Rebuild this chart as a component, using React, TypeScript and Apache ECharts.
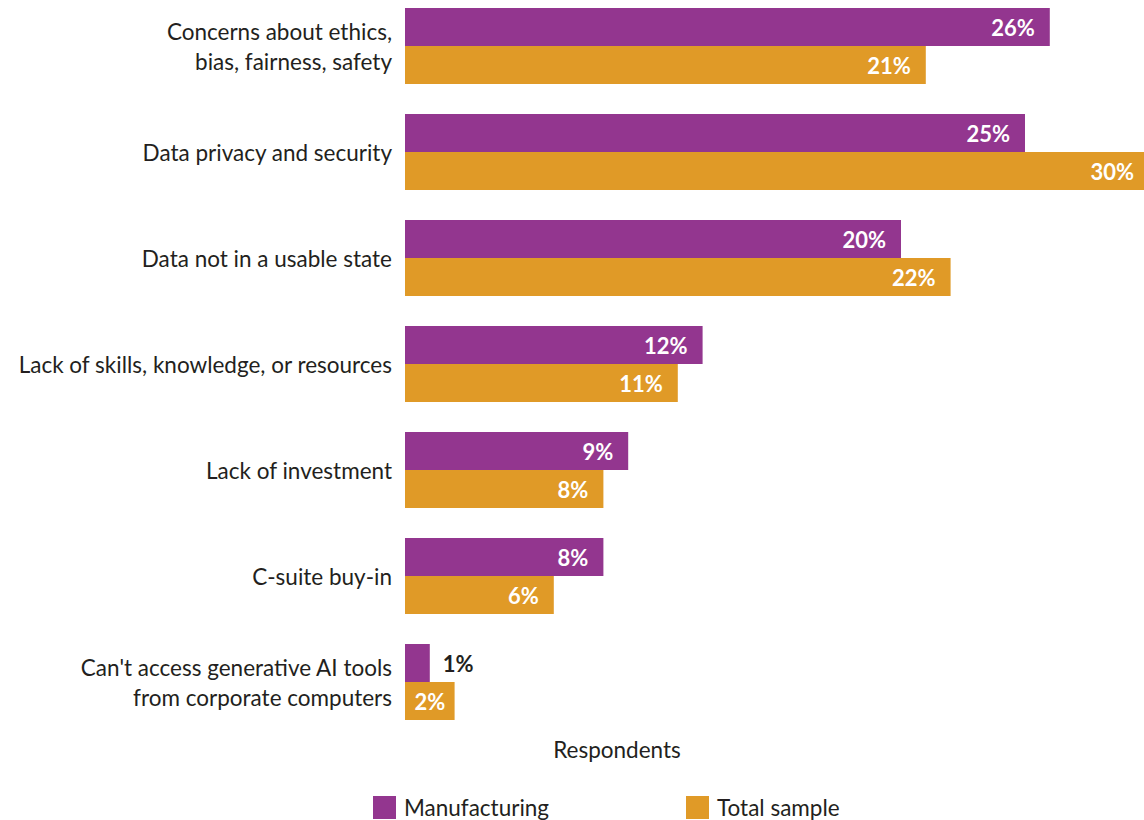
import React, { useEffect, useRef } from "react";
import * as echarts from "echarts";

const categories = [
  "Concerns about ethics,\nbias, fairness, safety",
  "Data privacy and security",
  "Data not in a usable state",
  "Lack of skills, knowledge, or resources",
  "Lack of investment",
  "C-suite buy-in",
  "Can't access generative AI tools\nfrom corporate computers",
];
const manufacturing = [26, 25, 20, 12, 9, 8, 1];
const totalSample = [21, 30, 22, 11, 8, 6, 2];
const seriesNames = ["Manufacturing", "Total sample"];
const axisTitle = "Respondents";

const PURPLE = "#93368f";
const ORANGE = "#e09a27";
const TEXT = "#231f20";
const FONT = "Lato, 'Noto Sans', sans-serif";
const OFFSET = 7; // chart canvas is shifted up by this many pixels

function labelFor(v: number) {
  const base = { show: true, fontWeight: "bold", fontSize: 22, fontFamily: FONT };
  if (v <= 1) {
    return { ...base, position: "right", distance: 13, color: TEXT, padding: [0, 0, 4, 0] };
  }
  if (v <= 2) {
    return { ...base, position: "inside", color: "#fff" };
  }
  return { ...base, position: "insideRight", distance: 15, color: "#fff" };
}

export default function App() {
  const ref = useRef<HTMLDivElement>(null);
  useEffect(() => {
    if (!ref.current) return;
    const chart = echarts.init(ref.current, undefined, { renderer: "svg" });
    const legendText = { color: TEXT, fontSize: 22.5, fontFamily: FONT, padding: [0, 0, 0, 3] };
    chart.setOption({
      animation: false,
      textStyle: { fontFamily: FONT },
      grid: { left: 405, top: 0, width: 744, height: 742, containLabel: false },
      xAxis: {
        type: "value",
        min: 0,
        max: 30,
        show: false,
      },
      yAxis: {
        type: "category",
        data: categories,
        inverse: true,
        axisLine: { show: false },
        axisTick: { show: false },
        splitLine: { show: false },
        axisLabel: {
          color: TEXT,
          fontSize: 22.5,
          fontFamily: FONT,
          margin: 13,
          lineHeight: 30,
          align: "right",
          padding: [0, 0, 6, 0],
        },
      },
      legend: [
        {
          data: [seriesNames[0]],
          left: 373,
          top: 796 + OFFSET,
          padding: 0,
          itemWidth: 23,
          itemHeight: 23,
          icon: "rect",
          textStyle: legendText,
        },
        {
          data: [seriesNames[1]],
          left: 686,
          top: 796 + OFFSET,
          padding: 0,
          itemWidth: 23,
          itemHeight: 23,
          icon: "rect",
          textStyle: legendText,
        },
      ],
      graphic: [
        {
          type: "text",
          x: 617,
          y: 749 + OFFSET,
          style: {
            text: axisTitle,
            fill: TEXT,
            fontSize: 22.5,
            fontFamily: FONT,
            textAlign: "center",
            textVerticalAlign: "middle",
          },
        },
      ],
      series: [
        {
          name: seriesNames[0],
          type: "bar",
          barWidth: 38,
          barGap: "0%",
          itemStyle: { color: PURPLE },
          data: manufacturing.map((v) => ({ value: v, label: labelFor(v) })),
          label: { formatter: "{c}%" },
        },
        {
          name: seriesNames[1],
          type: "bar",
          barWidth: 38,
          barGap: "0%",
          itemStyle: { color: ORANGE },
          data: totalSample.map((v) => ({ value: v, label: labelFor(v) })),
          label: { formatter: "{c}%" },
        },
      ],
    });
    return () => chart.dispose();
  }, []);
  return (
    <div
      style={{ position: "absolute", left: 0, top: 0, width: 1144, height: 820, overflow: "hidden", background: "#fff" }}
    >
      <div
        ref={ref}
        style={{ position: "absolute", left: 0, top: -OFFSET, width: 1160, height: 820 + OFFSET }}
      />
    </div>
  );
}
